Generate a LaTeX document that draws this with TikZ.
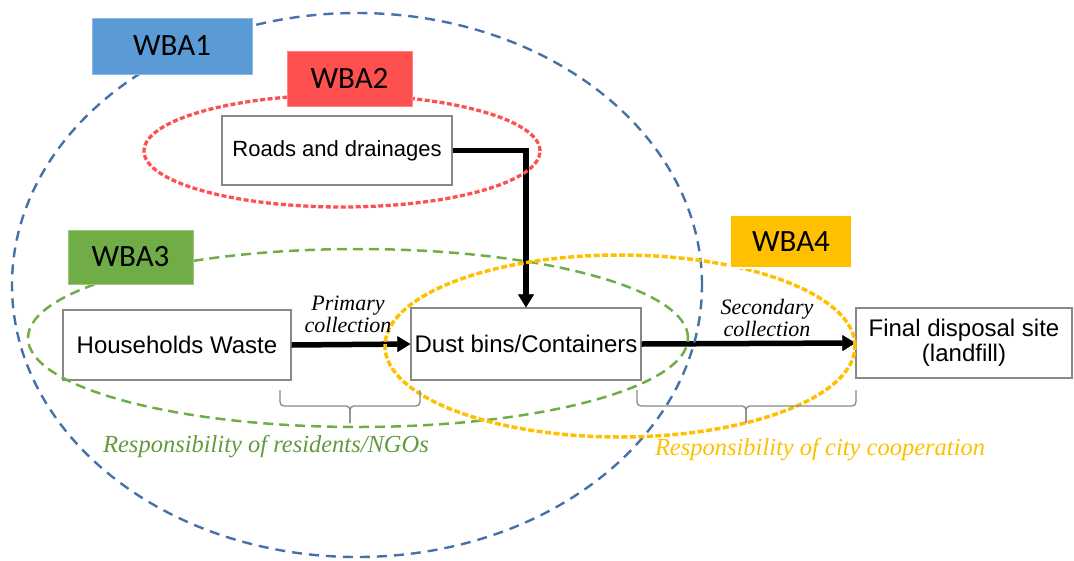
\documentclass[tikz,border=0pt]{standalone}
\usepackage{fontspec}
\setmainfont{Liberation Sans}
\newfontfamily\wbafont{Carlito}
\newfontfamily\timesf{Liberation Serif}
\usetikzlibrary{arrows.meta}
\definecolor{eblue}{HTML}{4472A8}
\definecolor{wblue}{HTML}{5B9BD5}
\definecolor{wred}{HTML}{FF5050}
\definecolor{wgreen}{HTML}{70AD47}
\definecolor{tgreen}{HTML}{629A3E}
\definecolor{wyellow}{HTML}{FFC000}
\definecolor{bgray}{HTML}{888888}
\begin{document}
\begin{tikzpicture}[x=1pt,y=-1pt,
  box/.style={draw=bgray,line width=1.2pt,fill=white,inner sep=0pt,align=center,
    font=\fontsize{24}{25}\selectfont},
  wba/.style={inner sep=0pt,minimum width=#1,font=\wbafont\fontsize{31}{31}\selectfont},
  flow/.style={line width=5.5pt,-{Triangle[length=13pt,width=16pt,line width=0.5pt]}},
  brace/.style={draw=bgray,line width=1.3pt,rounded corners=4pt},
  lbl/.style={font=\timesf\itshape\fontsize{22}{22}\selectfont,align=center,inner sep=0pt},
  resp/.style={font=\timesf\itshape\fontsize{24.5}{25}\selectfont,inner sep=0pt}]
\useasboundingbox (0,0) rectangle (1074,560);

% white boxes
\node[box,minimum width=228pt,minimum height=70pt] (house) at (177,345) {Households Waste};
\node[box,minimum width=230pt,minimum height=72pt] (dust) at (526,344) {Dust bins/Containers};
\node[box,minimum width=230pt,minimum height=69pt,font=\fontsize{22}{23}\selectfont] (roads) at (337,150.5) {Roads and drainages};
\node[box,minimum width=216pt,minimum height=70pt] (final) at (964,343) {Final disposal site\\(landfill)};

% arrows
\draw[flow] (house.east) -- (dust.west);
\draw[flow] (roads.east) -| (dust.north);
\draw[flow] (dust.east) -- (final.west);

% ellipses
\draw[eblue,line width=2.4pt,dash pattern=on 10pt off 7pt] (357,285) ellipse [x radius=345pt,y radius=272pt];
\draw[wred,line width=3.3pt,dash pattern=on 5pt off 2.5pt] (342,151) ellipse [x radius=198pt,y radius=56pt];
\draw[wgreen,line width=2.5pt,dash pattern=on 10pt off 6pt] (358,338) ellipse [x radius=330pt,y radius=89pt];
\draw[wyellow,line width=3.5pt,dash pattern=on 6pt off 2.5pt] (620,346) ellipse [x radius=235pt,y radius=91pt];

% WBA boxes
\node[wba=160pt,minimum height=56pt,fill=wblue,draw=wblue!70!white] (w1) at (172,46) {WBA1};
\node[wba=125pt,minimum height=55pt,fill=wred,draw=wred!70!white] (w2) at (349.5,78.5) {WBA2};
\node[wba=125pt,minimum height=54pt,fill=wgreen,draw=wgreen!70!white] (w3) at (130.5,257) {WBA3};
\node[wba=122pt,minimum height=53pt,fill=wyellow,draw=white,line width=1.5pt] (w4) at (791,241.5) {WBA4};

% labels
\node[lbl] (prim) at (348,314) {Primary\\collection};
\node[lbl] (sec) at (767,318) {Secondary\\collection};

% braces
\draw[brace] (280,390) -- (280,406) -- (350,406) -- (350,423);
\draw[brace] (350,423) -- (350,406) -- (420,406) -- (420,390);
\draw[brace] (637,390) -- (637,406) -- (746,406) -- (746,423);
\draw[brace] (746,423) -- (746,406) -- (856,406) -- (856,390);

\node[resp,text=tgreen] (r1) at (266,447) {Responsibility of residents/NGOs};
\node[resp,text=wyellow] (r2) at (820,450) {Responsibility of city cooperation};
\end{tikzpicture}
\end{document}
